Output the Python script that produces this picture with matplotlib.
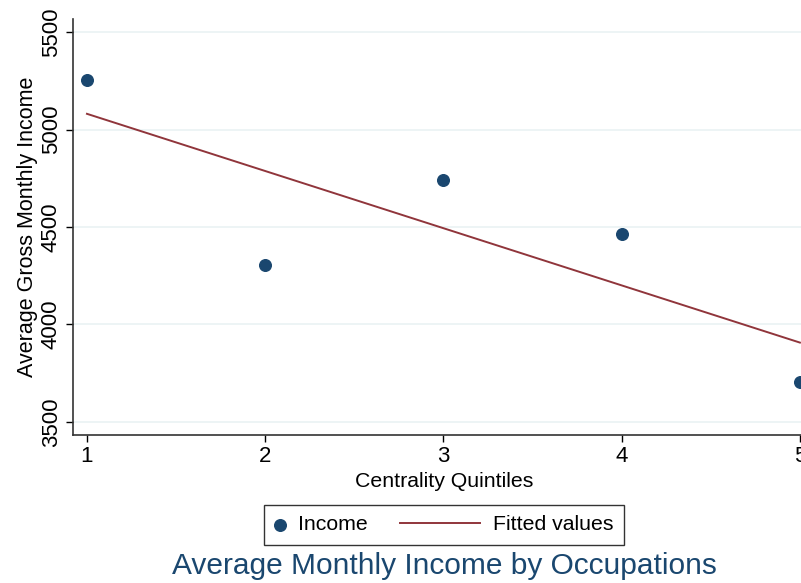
import matplotlib.pyplot as plt
import numpy as np
from matplotlib.legend_handler import HandlerLine2D

plt.rcParams['font.family'] = ['Liberation Sans', 'DejaVu Sans']

quintiles = [1, 2, 3, 4, 5]
income = [5253, 4304, 4742, 4464, 3706]
yticks = [3500, 4000, 4500, 5000, 5500]

navy = '#1a476f'
maroon = '#90353b'


class LongLine(HandlerLine2D):
    # line key reaching back to the left of the (short) handle box
    def get_xdata(self, legend, xdescent, ydescent, width, height, fontsize):
        x = [-xdescent + width - 57.6, -xdescent + width]
        return x, x


fig = plt.figure(figsize=(8.01, 5.83), dpi=100)
ax = fig.add_axes([0.0911, 0.2539, 0.925, 0.7135])

# linear fit
b, a = np.polyfit(quintiles, income, 1)
xs = np.array([quintiles[0], quintiles[-1]])

ax.scatter(quintiles, income, s=70, color=navy, zorder=3, label='Income', clip_on=False)
line, = ax.plot(xs, a + b * xs, color=maroon, lw=1.4, label='Fitted values', zorder=2)

ax.set_xlim(0.9215, 5.0785)
ax.set_ylim(3433, 5567)
ax.set_xticks(quintiles)
ax.set_yticks(yticks)
ax.set_yticklabels([str(t) for t in yticks], rotation=90, va='center')
ax.tick_params(labelsize=16, length=5, width=1, direction='out', pad=3)
ax.grid(axis='y', color='#eaf2f3', lw=1.2)
ax.set_axisbelow(True)
for s in ['top', 'right']:
    ax.spines[s].set_visible(False)
for s in ['left', 'bottom']:
    ax.spines[s].set_color('#333333')
    ax.spines[s].set_linewidth(1.2)

ax.set_xlabel('Centrality Quintiles', fontsize=15.3)
ax.set_ylabel('Average Gross Monthly Income', fontsize=15.5)
ax.xaxis.set_label_coords(0.5007, -0.089)
ax.yaxis.set_label_coords(-0.047, 0.5)

leg = fig.legend(loc='center', bbox_to_anchor=(444 / 801, 1 - 525 / 583), ncol=2,
                 fontsize=15.3, frameon=True, fancybox=False, edgecolor='black',
                 handlelength=0.5, handletextpad=0.58, columnspacing=4.8,
                 borderpad=0.5, handler_map={line: LongLine()})
leg.get_frame().set_linewidth(1)

fig.text(444 / 801, 1 - 566 / 583, 'Average Monthly Income by Occupations',
         ha='center', va='center', fontsize=21.5, color=navy)

fig.savefig('out.png', dpi=100)
